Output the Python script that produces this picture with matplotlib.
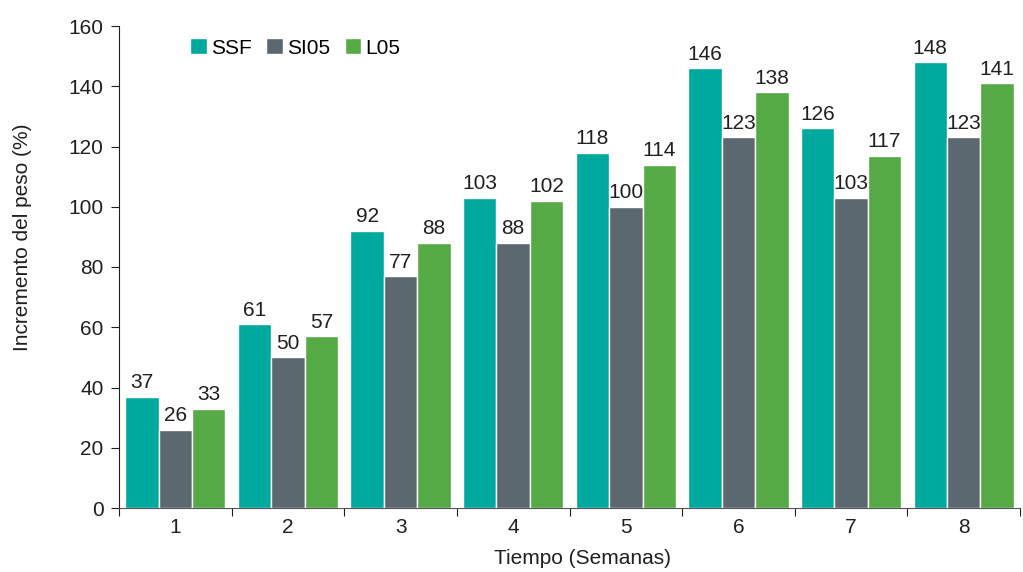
import matplotlib
matplotlib.use("Agg")
import matplotlib.pyplot as plt
import numpy as np

plt.rcParams['font.family'] = ['Liberation Sans', 'DejaVu Sans']

weeks = [1, 2, 3, 4, 5, 6, 7, 8]
series_names = ["SSF", "SI05", "L05"]
ssf = [37, 61, 92, 103, 118, 146, 126, 148]
si05 = [26, 50, 77, 88, 100, 123, 103, 123]
l05 = [33, 57, 88, 102, 114, 138, 117, 141]
colors = ["#00A99D", "#5B6870", "#56AA46"]

FS = 15
fig = plt.figure(figsize=(10.23, 5.72), dpi=100)
ax = fig.add_axes([119/1023, 1-508/572, (1020-119)/1023, (508-26)/572])

x = np.array(weeks, dtype=float)
w = 0.297
for i, (vals, name, c) in enumerate(zip([ssf, si05, l05], series_names, colors)):
    pos = x + (i - 1) * w
    ax.bar(pos, vals, width=w, color=c, edgecolor='white', linewidth=1.0, label=name)
    for p, v in zip(pos, vals):
        ax.text(p, v + 1.5, str(v), ha='center', va='bottom', fontsize=FS, color='#231F20')

ax.set_xlim(0.5, 8.5)
ax.set_ylim(0, 160)
ax.set_yticks(range(0, 161, 20))
ax.set_xticks(np.arange(0.5, 8.6, 1.0))
ax.set_xticklabels([])
ax.set_xticks(x, minor=True)
ax.set_xticklabels([str(wk) for wk in weeks], minor=True)
ax.tick_params(axis='x', which='minor', length=0, labelsize=FS, pad=7, colors='#231F20')
ax.tick_params(axis='x', which='major', length=6, direction='out', color='#231F20')
ax.tick_params(axis='y', length=6, direction='out', labelsize=FS, colors='#231F20', pad=5)
for s in ['top', 'right']:
    ax.spines[s].set_visible(False)
ax.spines['left'].set_color('#231F20')
ax.spines['bottom'].set_color('#555555')

ax.set_ylabel("Incremento del peso (%)", fontsize=FS, color='#231F20')
ax.set_xlabel("Tiempo (Semanas)", fontsize=FS, color='#231F20')
ax.yaxis.set_label_coords(-0.097, 0.562)
ax.xaxis.set_label_coords(0.514, -0.085)

ax.legend(loc='upper left', bbox_to_anchor=(0.065, 1.0), ncol=3, frameon=False,
          fontsize=FS, handlelength=0.8, handleheight=0.8, handletextpad=0.2,
          columnspacing=0.7, borderaxespad=0.2)

fig.savefig("out.png", dpi=100)
